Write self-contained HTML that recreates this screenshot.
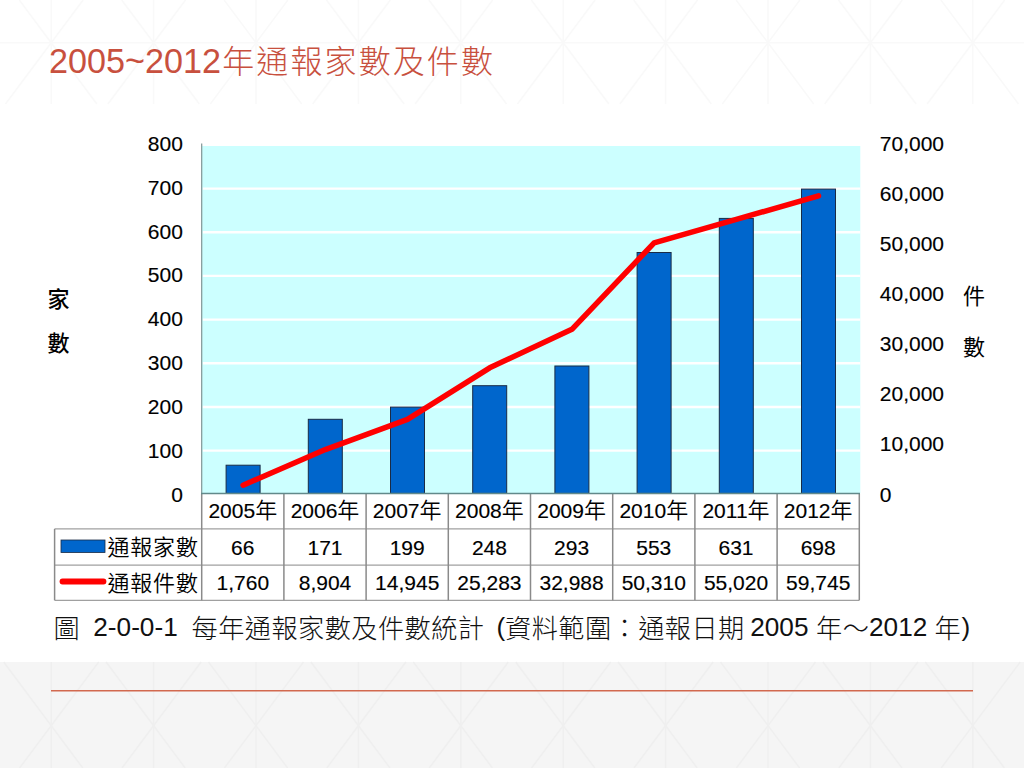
<!DOCTYPE html>
<html lang="zh-Hant"><head><meta charset="utf-8"><title>2005~2012年通報家數及件數</title>
<style>
html,body{margin:0;padding:0;}
body{width:1024px;height:768px;position:relative;overflow:hidden;background:#FFFFFF;}
.bg{position:absolute;left:0;top:0;}
.footer{position:absolute;left:0;top:662px;width:1024px;height:106px;background:#F5F5F5;}
.rule{position:absolute;left:0;top:0;}
h1{position:absolute;left:48.9px;top:37.8px;margin:0;font-weight:normal;font-size:34.2px;line-height:46px;color:#C8503E;
  font-family:'Liberation Sans','Noto Sans CJK TC','Noto Sans CJK SC',sans-serif;white-space:nowrap;}
.cap{position:absolute;top:609.7px;margin:0;font-size:26.2px;line-height:34px;color:#111;white-space:nowrap;
  font-family:'Liberation Sans','Noto Sans CJK TC','Noto Sans CJK SC',sans-serif;}
svg text{fill:#000;}
svg .n{stroke:#000;stroke-width:0.15px;}
svg .k{font-weight:350;}
svg .ax{font-weight:500;}
svg .ax2{font-weight:400;}
svg .lg{letter-spacing:0.8px;}
h1 .tc{font-family:'Noto Sans CJK TC','Noto Sans CJK SC',sans-serif;font-weight:300;font-size:32px;letter-spacing:2.1px;margin-left:1.3px;line-height:0;}
.cap span{position:absolute;top:0;}
.cap .c{font-family:'Noto Sans CJK TC','Noto Sans CJK SC',sans-serif;font-weight:300;letter-spacing:0.45px;}
</style></head>
<body>
<svg class="bg" width="1024" height="768" viewBox="0 0 1024 768">
<g stroke="#F9F9F9" stroke-width="1.5"><line x1="-51.2" y1="0" x2="-51.2" y2="104"/><line x1="-83.1" y1="0" x2="-5.5" y2="104"/><line x1="-19.3" y1="0" x2="-96.9" y2="104"/><line x1="51.2" y1="0" x2="51.2" y2="104"/><line x1="19.3" y1="0" x2="96.9" y2="104"/><line x1="83.1" y1="0" x2="5.5" y2="104"/><line x1="153.6" y1="0" x2="153.6" y2="104"/><line x1="121.7" y1="0" x2="199.3" y2="104"/><line x1="185.5" y1="0" x2="107.9" y2="104"/><line x1="256.0" y1="0" x2="256.0" y2="104"/><line x1="224.1" y1="0" x2="301.7" y2="104"/><line x1="287.9" y1="0" x2="210.3" y2="104"/><line x1="358.4" y1="0" x2="358.4" y2="104"/><line x1="326.5" y1="0" x2="404.1" y2="104"/><line x1="390.3" y1="0" x2="312.7" y2="104"/><line x1="460.8" y1="0" x2="460.8" y2="104"/><line x1="428.9" y1="0" x2="506.5" y2="104"/><line x1="492.7" y1="0" x2="415.1" y2="104"/><line x1="563.2" y1="0" x2="563.2" y2="104"/><line x1="531.3" y1="0" x2="608.9" y2="104"/><line x1="595.1" y1="0" x2="517.5" y2="104"/><line x1="665.6" y1="0" x2="665.6" y2="104"/><line x1="633.7" y1="0" x2="711.3" y2="104"/><line x1="697.5" y1="0" x2="619.9" y2="104"/><line x1="768.0" y1="0" x2="768.0" y2="104"/><line x1="736.1" y1="0" x2="813.7" y2="104"/><line x1="799.9" y1="0" x2="722.3" y2="104"/><line x1="870.4" y1="0" x2="870.4" y2="104"/><line x1="838.5" y1="0" x2="916.1" y2="104"/><line x1="902.3" y1="0" x2="824.7" y2="104"/><line x1="972.8" y1="0" x2="972.8" y2="104"/><line x1="940.9" y1="0" x2="1018.5" y2="104"/><line x1="1004.7" y1="0" x2="927.1" y2="104"/><line x1="1075.2" y1="0" x2="1075.2" y2="104"/><line x1="1043.3" y1="0" x2="1120.9" y2="104"/><line x1="1107.1" y1="0" x2="1029.5" y2="104"/></g><line x1="0" y1="42.8" x2="1024" y2="42.8" stroke="#F9F9F9" stroke-width="1.5"/>
</svg>
<div class="footer"></div>
<svg class="bg" width="1024" height="768" viewBox="0 0 1024 768">
<g stroke="#EFEFEF" stroke-width="1.5"><line x1="-51.2" y1="662" x2="-51.2" y2="768"/><line x1="-98.7" y1="662" x2="-19.6" y2="768"/><line x1="-3.7" y1="662" x2="-82.8" y2="768"/><line x1="51.2" y1="662" x2="51.2" y2="768"/><line x1="3.7" y1="662" x2="82.8" y2="768"/><line x1="98.7" y1="662" x2="19.6" y2="768"/><line x1="153.6" y1="662" x2="153.6" y2="768"/><line x1="106.1" y1="662" x2="185.2" y2="768"/><line x1="201.1" y1="662" x2="122.0" y2="768"/><line x1="256.0" y1="662" x2="256.0" y2="768"/><line x1="208.5" y1="662" x2="287.6" y2="768"/><line x1="303.5" y1="662" x2="224.4" y2="768"/><line x1="358.4" y1="662" x2="358.4" y2="768"/><line x1="310.9" y1="662" x2="390.0" y2="768"/><line x1="405.9" y1="662" x2="326.8" y2="768"/><line x1="460.8" y1="662" x2="460.8" y2="768"/><line x1="413.3" y1="662" x2="492.4" y2="768"/><line x1="508.3" y1="662" x2="429.2" y2="768"/><line x1="563.2" y1="662" x2="563.2" y2="768"/><line x1="515.7" y1="662" x2="594.8" y2="768"/><line x1="610.7" y1="662" x2="531.6" y2="768"/><line x1="665.6" y1="662" x2="665.6" y2="768"/><line x1="618.1" y1="662" x2="697.2" y2="768"/><line x1="713.1" y1="662" x2="634.0" y2="768"/><line x1="768.0" y1="662" x2="768.0" y2="768"/><line x1="720.5" y1="662" x2="799.6" y2="768"/><line x1="815.5" y1="662" x2="736.4" y2="768"/><line x1="870.4" y1="662" x2="870.4" y2="768"/><line x1="822.9" y1="662" x2="902.0" y2="768"/><line x1="917.9" y1="662" x2="838.8" y2="768"/><line x1="972.8" y1="662" x2="972.8" y2="768"/><line x1="925.3" y1="662" x2="1004.4" y2="768"/><line x1="1020.3" y1="662" x2="941.2" y2="768"/><line x1="1075.2" y1="662" x2="1075.2" y2="768"/><line x1="1027.7" y1="662" x2="1106.8" y2="768"/><line x1="1122.7" y1="662" x2="1043.6" y2="768"/></g>
</svg>
<svg class="rule" width="1024" height="768" viewBox="0 0 1024 768"><line x1="51" y1="690.7" x2="973" y2="690.7" stroke="#D2694F" stroke-width="1.6"/></svg>
<h1>2005~2012<span class="tc">年通報家數及件數</span></h1>
<svg class="bg" width="1024" height="768" viewBox="0 0 1024 768">
<rect x="201.7" y="146.0" width="658.5999999999999" height="347.4" fill="#CCFFFF"/><line x1="202.7" y1="450.6" x2="860.3" y2="450.6" stroke="#FFFFFF" stroke-width="2.4"/><line x1="202.7" y1="407.0" x2="860.3" y2="407.0" stroke="#FFFFFF" stroke-width="2.4"/><line x1="202.7" y1="363.3" x2="860.3" y2="363.3" stroke="#FFFFFF" stroke-width="2.4"/><line x1="202.7" y1="319.6" x2="860.3" y2="319.6" stroke="#FFFFFF" stroke-width="2.4"/><line x1="202.7" y1="275.9" x2="860.3" y2="275.9" stroke="#FFFFFF" stroke-width="2.4"/><line x1="202.7" y1="232.3" x2="860.3" y2="232.3" stroke="#FFFFFF" stroke-width="2.4"/><line x1="202.7" y1="188.6" x2="860.3" y2="188.6" stroke="#FFFFFF" stroke-width="2.4"/><line x1="202.7" y1="144.9" x2="860.3" y2="144.9" stroke="#FFFFFF" stroke-width="2.4"/><rect x="226.1" y="465.2" width="34" height="28.2" fill="#0066CC" stroke="#1A2B45" stroke-width="1"/><rect x="308.3" y="419.3" width="34" height="74.1" fill="#0066CC" stroke="#1A2B45" stroke-width="1"/><rect x="390.5" y="407.1" width="34" height="86.3" fill="#0066CC" stroke="#1A2B45" stroke-width="1"/><rect x="472.7" y="385.7" width="34" height="107.7" fill="#0066CC" stroke="#1A2B45" stroke-width="1"/><rect x="554.9" y="366.0" width="34" height="127.4" fill="#0066CC" stroke="#1A2B45" stroke-width="1"/><rect x="637.1" y="252.5" width="34" height="240.9" fill="#0066CC" stroke="#1A2B45" stroke-width="1"/><rect x="719.3" y="218.4" width="34" height="275.0" fill="#0066CC" stroke="#1A2B45" stroke-width="1"/><rect x="801.5" y="189.1" width="34" height="304.3" fill="#0066CC" stroke="#1A2B45" stroke-width="1"/><line x1="201.7" y1="143.6" x2="201.7" y2="493.4" stroke="#7F9595" stroke-width="1.2"/><polyline points="243.1,485.2 325.3,449.6 407.5,419.4 489.7,367.8 571.9,329.3 654.1,242.9 736.3,219.4 818.5,195.8" fill="none" stroke="#FF0000" stroke-width="5.5" stroke-linejoin="round" stroke-linecap="round"/><line x1="54.6" y1="528.9" x2="859.3" y2="528.9" stroke="#A0A0A0" stroke-width="1.3"/><line x1="54.6" y1="565.2" x2="859.3" y2="565.2" stroke="#A0A0A0" stroke-width="1.3"/><line x1="54.6" y1="600.3" x2="859.3" y2="600.3" stroke="#A0A0A0" stroke-width="1.3"/><line x1="54.6" y1="528.9" x2="54.6" y2="600.3" stroke="#8A8A8A" stroke-width="1.5"/><line x1="201.7" y1="493.4" x2="201.7" y2="600.3" stroke="#8A8A8A" stroke-width="1.5"/><line x1="283.9" y1="493.4" x2="283.9" y2="600.3" stroke="#8A8A8A" stroke-width="1.5"/><line x1="366.1" y1="493.4" x2="366.1" y2="600.3" stroke="#8A8A8A" stroke-width="1.5"/><line x1="448.3" y1="493.4" x2="448.3" y2="600.3" stroke="#8A8A8A" stroke-width="1.5"/><line x1="530.5" y1="493.4" x2="530.5" y2="600.3" stroke="#8A8A8A" stroke-width="1.5"/><line x1="612.7" y1="493.4" x2="612.7" y2="600.3" stroke="#8A8A8A" stroke-width="1.5"/><line x1="694.9" y1="493.4" x2="694.9" y2="600.3" stroke="#8A8A8A" stroke-width="1.5"/><line x1="777.1" y1="493.4" x2="777.1" y2="600.3" stroke="#8A8A8A" stroke-width="1.5"/><line x1="859.3" y1="493.4" x2="859.3" y2="600.3" stroke="#8A8A8A" stroke-width="1.5"/><line x1="201.0" y1="493.4" x2="860.0" y2="493.4" stroke="#62898A" stroke-width="1.5"/><rect x="61" y="540" width="44" height="12.5" fill="#0066CC" stroke="#1A2B45" stroke-width="0.8"/><line x1="62.5" y1="581.5" x2="103.5" y2="581.5" stroke="#FF0000" stroke-width="5.8" stroke-linecap="round"/>
<text class="n" x="182.9" y="501.5" text-anchor="end" font-size="21" font-family="'Liberation Sans', Arial, sans-serif" >0</text><text class="n" x="182.9" y="457.7" text-anchor="end" font-size="21" font-family="'Liberation Sans', Arial, sans-serif" >100</text><text class="n" x="182.9" y="413.8" text-anchor="end" font-size="21" font-family="'Liberation Sans', Arial, sans-serif" >200</text><text class="n" x="182.9" y="370.0" text-anchor="end" font-size="21" font-family="'Liberation Sans', Arial, sans-serif" >300</text><text class="n" x="182.9" y="326.2" text-anchor="end" font-size="21" font-family="'Liberation Sans', Arial, sans-serif" >400</text><text class="n" x="182.9" y="282.4" text-anchor="end" font-size="21" font-family="'Liberation Sans', Arial, sans-serif" >500</text><text class="n" x="182.9" y="238.5" text-anchor="end" font-size="21" font-family="'Liberation Sans', Arial, sans-serif" >600</text><text class="n" x="182.9" y="194.7" text-anchor="end" font-size="21" font-family="'Liberation Sans', Arial, sans-serif" >700</text><text class="n" x="182.9" y="150.9" text-anchor="end" font-size="21" font-family="'Liberation Sans', Arial, sans-serif" >800</text><text class="n" x="879.8" y="501.5" text-anchor="start" font-size="21" font-family="'Liberation Sans', Arial, sans-serif" >0</text><text class="n" x="879.8" y="451.4" text-anchor="start" font-size="21" font-family="'Liberation Sans', Arial, sans-serif" >10,000</text><text class="n" x="879.8" y="401.4" text-anchor="start" font-size="21" font-family="'Liberation Sans', Arial, sans-serif" >20,000</text><text class="n" x="879.8" y="351.3" text-anchor="start" font-size="21" font-family="'Liberation Sans', Arial, sans-serif" >30,000</text><text class="n" x="879.8" y="301.2" text-anchor="start" font-size="21" font-family="'Liberation Sans', Arial, sans-serif" >40,000</text><text class="n" x="879.8" y="251.2" text-anchor="start" font-size="21" font-family="'Liberation Sans', Arial, sans-serif" >50,000</text><text class="n" x="879.8" y="201.1" text-anchor="start" font-size="21" font-family="'Liberation Sans', Arial, sans-serif" >60,000</text><text class="n" x="879.8" y="151.0" text-anchor="start" font-size="21" font-family="'Liberation Sans', Arial, sans-serif" >70,000</text><text class="n" x="242.8" y="518" text-anchor="middle" font-size="21" font-family="'Liberation Sans', Arial, sans-serif">2005<tspan class="k" font-family="'Liberation Sans', 'Noto Sans CJK TC', 'Noto Sans CJK SC', sans-serif" font-size="22" stroke-width="0">年</tspan></text><text class="n" x="242.8" y="554.5" text-anchor="middle" font-size="21" font-family="'Liberation Sans', Arial, sans-serif" >66</text><text class="n" x="242.8" y="590.2" text-anchor="middle" font-size="21" font-family="'Liberation Sans', Arial, sans-serif" >1,760</text><text class="n" x="325.0" y="518" text-anchor="middle" font-size="21" font-family="'Liberation Sans', Arial, sans-serif">2006<tspan class="k" font-family="'Liberation Sans', 'Noto Sans CJK TC', 'Noto Sans CJK SC', sans-serif" font-size="22" stroke-width="0">年</tspan></text><text class="n" x="325.0" y="554.5" text-anchor="middle" font-size="21" font-family="'Liberation Sans', Arial, sans-serif" >171</text><text class="n" x="325.0" y="590.2" text-anchor="middle" font-size="21" font-family="'Liberation Sans', Arial, sans-serif" >8,904</text><text class="n" x="407.2" y="518" text-anchor="middle" font-size="21" font-family="'Liberation Sans', Arial, sans-serif">2007<tspan class="k" font-family="'Liberation Sans', 'Noto Sans CJK TC', 'Noto Sans CJK SC', sans-serif" font-size="22" stroke-width="0">年</tspan></text><text class="n" x="407.2" y="554.5" text-anchor="middle" font-size="21" font-family="'Liberation Sans', Arial, sans-serif" >199</text><text class="n" x="407.2" y="590.2" text-anchor="middle" font-size="21" font-family="'Liberation Sans', Arial, sans-serif" >14,945</text><text class="n" x="489.4" y="518" text-anchor="middle" font-size="21" font-family="'Liberation Sans', Arial, sans-serif">2008<tspan class="k" font-family="'Liberation Sans', 'Noto Sans CJK TC', 'Noto Sans CJK SC', sans-serif" font-size="22" stroke-width="0">年</tspan></text><text class="n" x="489.4" y="554.5" text-anchor="middle" font-size="21" font-family="'Liberation Sans', Arial, sans-serif" >248</text><text class="n" x="489.4" y="590.2" text-anchor="middle" font-size="21" font-family="'Liberation Sans', Arial, sans-serif" >25,283</text><text class="n" x="571.6" y="518" text-anchor="middle" font-size="21" font-family="'Liberation Sans', Arial, sans-serif">2009<tspan class="k" font-family="'Liberation Sans', 'Noto Sans CJK TC', 'Noto Sans CJK SC', sans-serif" font-size="22" stroke-width="0">年</tspan></text><text class="n" x="571.6" y="554.5" text-anchor="middle" font-size="21" font-family="'Liberation Sans', Arial, sans-serif" >293</text><text class="n" x="571.6" y="590.2" text-anchor="middle" font-size="21" font-family="'Liberation Sans', Arial, sans-serif" >32,988</text><text class="n" x="653.8" y="518" text-anchor="middle" font-size="21" font-family="'Liberation Sans', Arial, sans-serif">2010<tspan class="k" font-family="'Liberation Sans', 'Noto Sans CJK TC', 'Noto Sans CJK SC', sans-serif" font-size="22" stroke-width="0">年</tspan></text><text class="n" x="653.8" y="554.5" text-anchor="middle" font-size="21" font-family="'Liberation Sans', Arial, sans-serif" >553</text><text class="n" x="653.8" y="590.2" text-anchor="middle" font-size="21" font-family="'Liberation Sans', Arial, sans-serif" >50,310</text><text class="n" x="736.0" y="518" text-anchor="middle" font-size="21" font-family="'Liberation Sans', Arial, sans-serif">2011<tspan class="k" font-family="'Liberation Sans', 'Noto Sans CJK TC', 'Noto Sans CJK SC', sans-serif" font-size="22" stroke-width="0">年</tspan></text><text class="n" x="736.0" y="554.5" text-anchor="middle" font-size="21" font-family="'Liberation Sans', Arial, sans-serif" >631</text><text class="n" x="736.0" y="590.2" text-anchor="middle" font-size="21" font-family="'Liberation Sans', Arial, sans-serif" >55,020</text><text class="n" x="818.2" y="518" text-anchor="middle" font-size="21" font-family="'Liberation Sans', Arial, sans-serif">2012<tspan class="k" font-family="'Liberation Sans', 'Noto Sans CJK TC', 'Noto Sans CJK SC', sans-serif" font-size="22" stroke-width="0">年</tspan></text><text class="n" x="818.2" y="554.5" text-anchor="middle" font-size="21" font-family="'Liberation Sans', Arial, sans-serif" >698</text><text class="n" x="818.2" y="590.2" text-anchor="middle" font-size="21" font-family="'Liberation Sans', Arial, sans-serif" >59,745</text><text x="107.5" y="555" class="k lg" font-size="22" font-family="'Liberation Sans', 'Noto Sans CJK TC', 'Noto Sans CJK SC', sans-serif">通報家數</text><text x="107.5" y="590.5" class="k lg" font-size="22" font-family="'Liberation Sans', 'Noto Sans CJK TC', 'Noto Sans CJK SC', sans-serif">通報件數</text><text class="ax" x="47.5" y="306.5" font-size="22" font-family="'Liberation Sans', 'Noto Sans CJK TC', 'Noto Sans CJK SC', sans-serif">家</text><text class="ax" x="47.5" y="351" font-size="22" font-family="'Liberation Sans', 'Noto Sans CJK TC', 'Noto Sans CJK SC', sans-serif">數</text><text class="ax2" x="963.1" y="304.3" font-size="22" font-family="'Liberation Sans', 'Noto Sans CJK TC', 'Noto Sans CJK SC', sans-serif">件</text><text class="ax2" x="963.1" y="355" font-size="22" font-family="'Liberation Sans', 'Noto Sans CJK TC', 'Noto Sans CJK SC', sans-serif">數</text>
</svg>
<div class="cap" style="left:0"><span class="c" style="left:53.5px">圖</span><span class="l" style="left:93.3px">2-0-0-1</span><span class="c" style="left:191.5px">每年通報家數及件數統計</span><span class="l" style="left:496.6px">(</span><span class="c" style="left:505.0px">資料範圍：通報日期</span><span class="l" style="left:750.2px">2005</span><span class="c" style="left:816.0px">年～</span><span class="l" style="left:869.0px">2012</span><span class="c" style="left:934.5px">年</span><span class="l" style="left:961.5px">)</span></div>
</body></html>
